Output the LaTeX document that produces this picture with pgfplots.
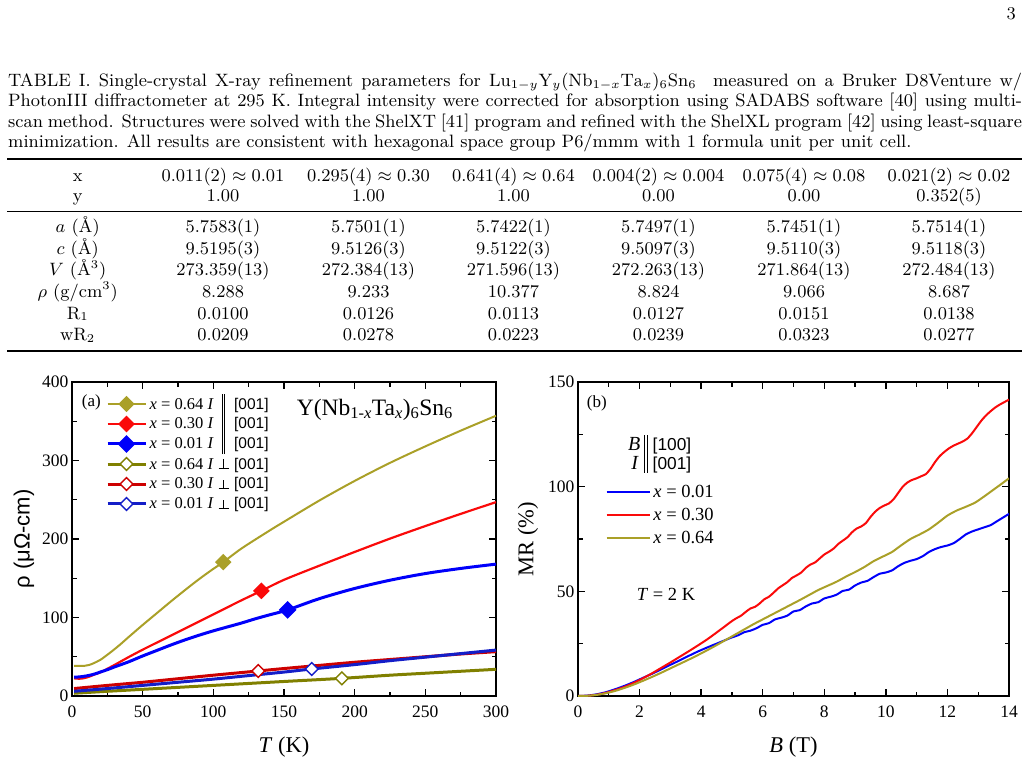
\documentclass[border=0pt]{standalone}
\usepackage{fontspec}
\usepackage{graphicx}
\usepackage{pgfplots}
\pgfplotsset{compat=1.18}
\newfontfamily\tms{Liberation Serif}
\newfontfamily\ars{Liberation Sans}
% caption and table are set at 9pt and enlarged
\newcommand{\pg}[1]{\scalebox{1.99}{\fontsize{9}{10.5}\selectfont #1}}
% tall double bar used for "parallel"
\newcommand{\dbar}[2]{\raisebox{#1}{\rule{1.1pt}{#2}\hspace{1.7pt}\rule{1.1pt}{#2}}}
% up tack used for "perpendicular"
\newcommand{\perpsym}{\makebox[10pt][l]{\rlap{\rule{10pt}{1.1pt}}\hspace{4.45pt}\rule{1.1pt}{9.5pt}}}
% legend entry of panel (a)
\newcommand{\lent}[2]{\tms\fontsize{16.5}{20}\selectfont\rule[-5pt]{0pt}{20pt}\makebox[66.8pt][l]{\textit{x} = #1 \textit{I}}\makebox[14pt]{#2}\hspace{3.6pt}{\ars\fontsize{15.5}{15.5}\selectfont[001]}}
\newcommand{\lentb}[1]{\tms\fontsize{18.5}{23}\selectfont\rule[-6pt]{0pt}{23pt}\textit{x} = #1}
\newcommand{\tc}[3]{\node[anchor=base, inner sep=0pt] at (#1,-#2) {\pg{#3}};}
\newcommand{\tickfont}{\tms\fontsize{17.5}{17.5}\selectfont}

\definecolor{ylw}{RGB}{170,160,40}
\definecolor{olv}{RGB}{128,128,0}
\definecolor{rd}{RGB}{250,10,10}
\definecolor{drd}{RGB}{205,0,0}
\definecolor{bl}{RGB}{0,0,250}
\definecolor{dbl}{RGB}{20,30,200}

\pgfplotsset{
  panel/.style={
    scale only axis, anchor=south west,
    axis line style={line width=1.7pt},
    tick align=inside,
    major tick length=7pt, minor tick length=4.5pt,
    tick style={line width=1.4pt, black},
    xticklabel={\tickfont\pgfmathprintnumber[assume math mode=true]{\tick}},
    yticklabel={\tickfont\pgfmathprintnumber[assume math mode=true]{\tick}},
    xticklabel style={yshift=-6.5pt},
    label style={font=\tms\fontsize{22.5}{22.5}\selectfont},
    xlabel style={at={(axis description cs:0.5,-0.1615)}, anchor=center},
  },
  fdiam/.style={mark=square*, mark size=4.8pt, mark options={rotate=45, solid, fill=#1, draw=#1}},
  odiam/.style={mark=square*, mark size=4.5pt, mark options={rotate=45, solid, fill=white, draw=#1, line width=1.4pt}},
}

\begin{document}
\begin{tikzpicture}[x=1pt,y=1pt]
\path[use as bounding box] (0,0) rectangle (1029,-765);

% page number
\node[anchor=base east, inner sep=0pt] at (1016,-20) {\pg{3}};

% caption
\node[anchor=base west, inner sep=0pt] at (8,-86.7) {\pg{\makebox[509.5pt][s]{TABLE I. Single-crystal X-ray refinement parameters for $\mathrm{Lu}_{1-y}\mathrm{Y}_y(\mathrm{Nb}_{1-x}\mathrm{Ta}_x)_6\mathrm{Sn}_6$\ \ measured on a Bruker D8Venture w/}}};
\node[anchor=base west, inner sep=0pt] at (8,-106.9) {\pg{\makebox[509.5pt][s]{PhotonIII diffractometer at 295 K. Integral intensity were corrected for absorption using SADABS software [40] using multi-}}};
\node[anchor=base west, inner sep=0pt] at (8,-127.1) {\pg{\makebox[509.5pt][s]{scan method. Structures were solved with the ShelXT [41] program and refined with the ShelXL program [42] using least-square}}};
\node[anchor=base west, inner sep=0pt] at (8,-147.3) {\pg{minimization. All results are consistent with hexagonal space group P6/mmm with 1 formula unit per unit cell.}};

% table rules
\draw[line width=1.6pt] (7,-159.3) -- (1022,-159.3);
\draw[line width=1pt] (7,-211.5) -- (1022,-211.5);
\draw[line width=1.6pt] (7,-351) -- (1022,-351);

% table body
\tc{77.7}{181.5}{x}
\tc{223}{181.5}{$0.011(2)\approx0.01$}
\tc{368.5}{181.5}{$0.295(4)\approx0.30$}
\tc{513.5}{181.5}{$0.641(4)\approx0.64$}
\tc{658.5}{181.5}{$0.004(2)\approx0.004$}
\tc{804}{181.5}{$0.075(4)\approx0.08$}
\tc{949}{181.5}{$0.021(2)\approx0.02$}

\tc{77.7}{201.5}{y}
\tc{223}{201.5}{1.00}
\tc{368.5}{201.5}{1.00}
\tc{513.5}{201.5}{1.00}
\tc{658.5}{201.5}{0.00}
\tc{804}{201.5}{0.00}
\tc{949}{201.5}{0.352(5)}

\tc{77.7}{233}{$a$ (Å)}
\tc{223}{233}{5.7583(1)}
\tc{368.5}{233}{5.7501(1)}
\tc{513.5}{233}{5.7422(1)}
\tc{658.5}{233}{5.7497(1)}
\tc{804}{233}{5.7451(1)}
\tc{949}{233}{5.7514(1)}

\tc{77.7}{254.5}{$c$ (Å)}
\tc{223}{254.5}{9.5195(3)}
\tc{368.5}{254.5}{9.5126(3)}
\tc{513.5}{254.5}{9.5122(3)}
\tc{658.5}{254.5}{9.5097(3)}
\tc{804}{254.5}{9.5110(3)}
\tc{949}{254.5}{9.5118(3)}

\tc{77.7}{276}{$V$\ (Å$^3$)}
\tc{223}{276}{273.359(13)}
\tc{368.5}{276}{272.384(13)}
\tc{513.5}{276}{271.596(13)}
\tc{658.5}{276}{272.263(13)}
\tc{804}{276}{271.864(13)}
\tc{949}{276}{272.484(13)}

\tc{77.7}{297.5}{$\rho$ (g/cm$^3$)}
\tc{223}{297.5}{8.288}
\tc{368.5}{297.5}{9.233}
\tc{513.5}{297.5}{10.377}
\tc{658.5}{297.5}{8.824}
\tc{804}{297.5}{9.066}
\tc{949}{297.5}{8.687}

\tc{77.7}{319}{R$_1$}
\tc{223}{319}{0.0100}
\tc{368.5}{319}{0.0126}
\tc{513.5}{319}{0.0113}
\tc{658.5}{319}{0.0127}
\tc{804}{319}{0.0151}
\tc{949}{319}{0.0138}

\tc{77.7}{340.5}{wR$_2$}
\tc{223}{340.5}{0.0209}
\tc{368.5}{340.5}{0.0278}
\tc{513.5}{340.5}{0.0223}
\tc{658.5}{340.5}{0.0239}
\tc{804}{340.5}{0.0323}
\tc{949}{340.5}{0.0277}

% ---------------- panel (a): resistivity vs temperature
\begin{axis}[panel, at={(72pt,-696pt)}, width=424pt, height=314pt,
  xmin=0, xmax=300, ymin=0, ymax=400,
  xtick={0,50,...,300}, ytick={0,100,...,400},
  minor x tick num=1, minor y tick num=1,
  xlabel={\textit{T} (K)},
  ylabel={\ars\fontsize{22}{22}\selectfont ρ (μΩ-cm)},
  ylabel style={at={(axis description cs:-0.1132,0.5)}, anchor=center},
  legend style={draw=none, fill=none, at={(0.0802,0.9618)}, anchor=north west,
    inner sep=0pt, outer sep=0pt, row sep=0pt, column sep=2.7pt,
    nodes={inner sep=0pt, text depth={}}},
  legend cell align=left,
  legend image code/.code={\draw[mark indices={2}] plot coordinates {(0pt,0pt) (19pt,0pt) (38pt,0pt)};},
]
\addplot[ylw, line width=2pt, smooth, fdiam=ylw, mark indices={17}] coordinates {
 (1.5,38.5) (5,38.3) (9,38.5) (12,39.5) (15,41.5) (20,46) (25,52.5) (30,59.5)
 (35,67) (40,75) (50,90.5) (60,105.5) (70,120.5) (80,135) (90,149) (100,162)
 (107,170.5) (120,188) (140,211) (150,222) (175,249) (200,274) (225,297)
 (250,318) (275,338) (300,357)};
\addlegendentry{\lent{0.64}{\dbar{-5pt}{20pt}}}
\addplot[rd, line width=2.2pt, smooth, fdiam=rd, mark indices={17}] coordinates {
 (1.5,22.5) (5,22) (8,22.5) (12,24.5) (16,27.5) (20,30) (30,39.5) (40,49.5)
 (50,59) (60,68) (70,77) (80,86) (90,95) (100,104) (110,113) (120,122)
 (134,134) (150,148) (175,166) (200,183.5) (225,200.5) (250,216.5) (275,232)
 (300,247)};
\addlegendentry{\lent{0.30}{\dbar{-5pt}{20pt}}}
\addplot[bl, line width=3pt, smooth, fdiam=bl, mark indices={19}] coordinates {
 (1.5,24) (5,24.3) (10,25.5) (15,27.5) (20,30.5) (25,33.5) (30,37) (40,43.5)
 (50,51) (60,58) (70,65) (80,71.5) (90,77.5) (100,83) (110,88) (120,93)
 (130,98.5) (140,103.5) (152.6,109.7) (175,124) (200,137) (225,147.5)
 (250,156) (275,162.5) (300,168)};
\addlegendentry{\lent{0.01}{\dbar{-5pt}{20pt}}}
\addplot[olv, line width=3pt, smooth, odiam=olv, mark indices={8}] coordinates {
 (1.5,3.5) (25,6) (50,8.5) (75,11) (100,13.5) (125,16) (150,18.5) (190.9,22.5)
 (225,26.5) (250,29) (275,31.5) (300,34)};
\addlegendentry{\lent{0.64}{\perpsym}}
\addplot[drd, line width=3pt, smooth, odiam=drd, mark indices={6}] coordinates {
 (1.5,9.5) (25,13.5) (50,17.5) (75,22) (100,26.5) (131.8,31.9) (150,35)
 (175,39) (200,43) (225,46.5) (250,50) (275,53.5) (300,56.5)};
\addlegendentry{\lent{0.30}{\perpsym}}
\addplot[dbl, line width=3pt, smooth, odiam=dbl, mark indices={8}] coordinates {
 (1.5,6) (25,9.5) (50,13.5) (75,17.5) (100,21.5) (125,26) (150,30.5)
 (169.6,34.4) (200,40) (225,45) (250,49.5) (275,54) (300,58.5)};
\addlegendentry{\lent{0.01}{\perpsym}}
\end{axis}

% ---------------- panel (b): magnetoresistance vs field
\begin{axis}[panel, at={(578pt,-696pt)}, width=431pt, height=314pt,
  xmin=0, xmax=14, ymin=0, ymax=150,
  xtick={0,2,...,14}, ytick={0,50,100,150},
  minor x tick num=1, minor y tick num=1,
  xlabel={\textit{B} (T)}, ylabel={MR (\%)},
  ylabel style={at={(axis description cs:-0.116,0.5)}, anchor=center},
  legend style={draw=none, fill=none, at={(0.0643,0.6854)}, anchor=north west,
    inner sep=0pt, outer sep=0pt, row sep=0pt, column sep=2.4pt,
    nodes={inner sep=0pt, text depth={}}},
  legend cell align=left,
  legend image code/.code={\draw plot coordinates {(0pt,0pt) (43.3pt,0pt)};},
]
\addplot[bl, line width=2pt, smooth, tension=0.4] coordinates {
 (0,0) (0.3,0.2) (0.6,0.8) (0.9,1.8) (1.2,3.2) (1.5,4.8) (1.8,6.6) (2.1,8.6)
 (2.4,10.6) (2.7,12.7) (3.0,14.9) (3.3,17.0) (3.6,19.2) (3.9,21.3) (4.2,23.2)
 (4.5,25.0) (4.8,26.8) (5.0,28.0) (5.2,29.0) (5.4,30.5) (5.6,31.2) (5.8,32.4)
 (6.0,34.0) (6.2,34.8) (6.4,36.6) (6.6,37.4) (6.8,38.4) (7.0,40.4) (7.2,41.0)
 (7.4,42.8) (7.6,44.2) (7.8,44.8) (8.0,46.6) (8.2,47.4) (8.4,48.4) (8.6,50.2)
 (8.8,50.8) (9.0,52.8) (9.2,54.2) (9.4,55.0) (9.6,56.8) (9.8,58.4) (10.0,59.0)
 (10.2,60.0) (10.4,62.0) (10.6,63.6) (10.8,64.6) (11.0,65.4) (11.2,66.8)
 (11.4,68.8) (11.6,70.2) (11.8,71.2) (12.0,71.9) (12.2,73.0) (12.4,75.0)
 (12.6,77.2) (12.8,78.6) (13.0,79.6) (13.2,80.6) (13.4,81.6) (13.6,83.4)
 (13.8,85.2) (14.0,87.0)};
\addlegendentry{\lentb{0.01}}
\addplot[rd, line width=2pt, smooth, tension=0.4] coordinates {
 (0,0) (0.3,0.1) (0.6,0.6) (0.9,1.5) (1.2,2.8) (1.5,4.3) (1.8,6.2) (2.1,8.4)
 (2.4,10.8) (2.7,13.4) (3.0,16.0) (3.3,18.7) (3.6,21.4) (3.9,24.2) (4.2,27.1)
 (4.5,30.3) (4.8,33.6) (5.0,35.8) (5.15,37.2) (5.3,38.4) (5.45,40.2)
 (5.6,41.8) (5.75,42.6) (5.9,44.2) (6.05,46.2) (6.2,47.4) (6.35,49.3)
 (6.5,51.4) (6.65,52.9) (6.8,54.4) (6.95,56.4) (7.1,57.6) (7.25,59.0)
 (7.4,61.2) (7.55,62.8) (7.7,63.8) (7.85,65.7) (8.0,67.6) (8.15,68.9)
 (8.3,70.4) (8.45,72.6) (8.6,74.2) (8.75,75.8) (8.9,78.2) (9.05,80.0)
 (9.2,81.0) (9.35,82.6) (9.5,85.5) (9.65,88.0) (9.8,89.8) (9.95,91.0)
 (10.1,92.0) (10.25,94.0) (10.4,97.0) (10.55,100.0) (10.7,102.0)
 (10.85,103.2) (11.0,104.0) (11.15,105.0) (11.3,106.0) (11.45,108.5)
 (11.6,111.8) (11.75,114.6) (11.9,116.6) (12.05,118.3) (12.2,119.6)
 (12.35,120.6) (12.5,121.6) (12.65,123.0) (12.8,125.5) (12.95,128.5)
 (13.1,131.5) (13.25,134.0) (13.4,136.0) (13.55,137.8) (13.7,139.2)
 (13.85,140.4) (14.0,141.6)};
\addlegendentry{\lentb{0.30}}
\addplot[ylw, line width=2pt, smooth, tension=0.4] coordinates {
 (0,0) (0.3,0.1) (0.6,0.5) (0.9,1.3) (1.2,2.4) (1.5,3.8) (1.8,5.4) (2.1,7.2)
 (2.4,9.1) (2.7,11.1) (3.0,13.2) (3.3,15.3) (3.6,17.4) (3.9,19.6) (4.2,21.9)
 (4.5,24.3) (4.8,26.8) (5.1,29.3) (5.4,31.8) (5.7,34.3) (6.0,36.6) (6.3,38.9)
 (6.6,41.2) (6.9,43.5) (7.2,45.8) (7.5,48.2) (7.8,50.6) (8.1,52.6) (8.4,54.6)
 (8.7,57.0) (9.0,59.2) (9.3,61.6) (9.6,64.4) (9.9,66.6) (10.2,68.8)
 (10.5,72.0) (10.8,75.0) (11.1,77.2) (11.4,79.6) (11.7,82.8) (12.0,86.2)
 (12.3,88.6) (12.6,90.4) (12.9,92.4) (13.2,95.4) (13.5,98.6) (13.8,101.8)
 (14.0,104.0)};
\addlegendentry{\lentb{0.64}}
\end{axis}

% panel annotations
\node[anchor=base west, inner sep=0pt] at (81.7,-406) {\tms\fontsize{17}{17}\selectfont (a)};
\node[anchor=base west, inner sep=0pt] at (296.7,-415) {\tms\fontsize{23.5}{23.5}\selectfont Y(Nb\textsubscript{1-\textit{x}}Ta\textsubscript{\textit{x}})\textsubscript{6}Sn\textsubscript{6}};
\node[anchor=base west, inner sep=0pt] at (586.7,-407) {\tms\fontsize{17}{17}\selectfont (b)};
\node[anchor=base east, inner sep=0pt] at (640.5,-450.7) {\tms\fontsize{20}{20}\selectfont\textit{B}};
\node[anchor=base east, inner sep=0pt] at (639,-469.3) {\tms\fontsize{20}{20}\selectfont\textit{I}};
\node[anchor=north, inner sep=0pt] at (645.8,-434.3) {\dbar{0pt}{38pt}};
\node[anchor=base west, inner sep=0pt] at (652.5,-450.7) {\ars\fontsize{17.3}{17.3}\selectfont[100]};
\node[anchor=base west, inner sep=0pt] at (652.5,-469.3) {\ars\fontsize{17.3}{17.3}\selectfont[001]};
\node[anchor=base west, inner sep=0pt] at (636.7,-600) {\tms\fontsize{18.5}{18.5}\selectfont\textit{T} = 2 K};
\end{tikzpicture}
\end{document}
